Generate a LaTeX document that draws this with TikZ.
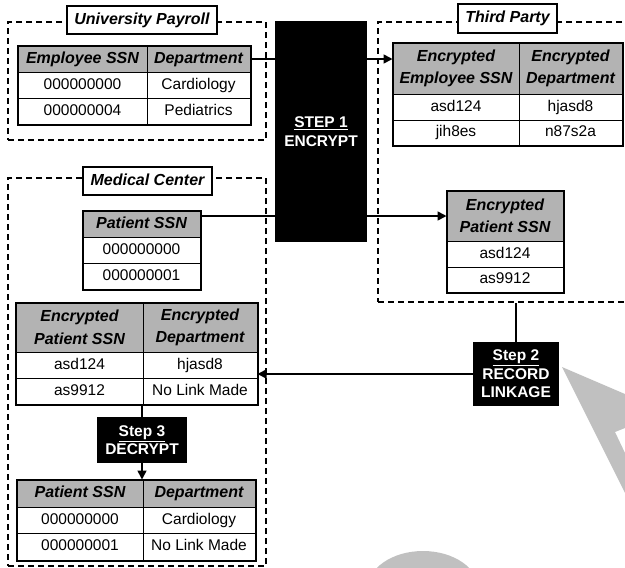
\documentclass[tikz,border=0pt]{standalone}
\usepackage{fontspec}
\setmainfont{Liberation Sans}
\usetikzlibrary{arrows.meta}
\definecolor{hdr}{HTML}{B3B3B3}
\definecolor{wm}{HTML}{C0C0C0}
\begin{document}
\begin{tikzpicture}[x=1pt,y=-1pt,
  basecell/.style={draw, line width=1pt, inner sep=0pt, align=center},
  cell/.style={basecell, text height=11pt, text depth=3pt, font=\fontsize{15.5}{18}\selectfont},
  hcell/.style={basecell, fill=hdr, text height=11.5pt, text depth=3.5pt, font=\fontsize{16}{22.5}\selectfont\bfseries\itshape},
  hcelltwo/.style={basecell, fill=hdr, font=\fontsize{16}{22.5}\selectfont\bfseries\itshape},
  container/.style={draw, dash pattern=on 6pt off 4pt, line width=1.1pt, inner sep=0pt},
  lab/.style={draw, fill=white, line width=1.2pt, inner sep=0pt, text height=11.5pt, text depth=3.5pt, font=\fontsize{16}{19}\selectfont\bfseries\itshape},
  stepbox/.style={fill=black, text=white, inner sep=0pt, align=center, font=\fontsize{15.5}{18.5}\selectfont\bfseries},
  conn/.style={line width=1.7pt},
  arr/.style={conn, -{Triangle[length=9pt,width=9pt]}},
  outer/.style={line width=2pt}
]
\useasboundingbox (0,0) rectangle (625,568);
\clip (0,0) rectangle (625,568);

% watermark fragments
\fill[wm] (562,367) -- (625,394) -- (625,428) -- (615,432) -- (625,453) -- (625,493) -- cycle;
\fill[wm] (423,590) ellipse [x radius=56pt, y radius=39pt];

% containers
\node[container, minimum width=258pt, minimum height=118pt] (upbox) at (137,81) {};
\node[container, minimum width=272pt, minimum height=280pt] (tpbox) at (514,162) {};
\node[container, minimum width=258pt, minimum height=388pt] (mcbox) at (137,372) {};
\node[lab, minimum width=150pt, minimum height=28pt] (uplab) at (142,20) {University Payroll};
\node[lab, minimum width=99pt, minimum height=29pt] (tplab) at (507.5,18.5) {Third Party};
\node[lab, minimum width=129pt, minimum height=28pt] (mclab) at (147.5,181) {Medical Center};

% University Payroll table
\node[hcell, minimum width=129pt, minimum height=26pt] (up-h1) at (82.5,59) {Employee SSN};
\node[hcell, minimum width=103pt, minimum height=26pt] (up-h2) at (198.5,59) {Department};
\node[cell, minimum width=129pt, minimum height=26pt] (up-a1) at (82.5,85) {000000000};
\node[cell, minimum width=103pt, minimum height=26pt] (up-a2) at (198.5,85) {Cardiology};
\node[cell, minimum width=129pt, minimum height=26pt] (up-b1) at (82.5,111) {000000004};
\node[cell, minimum width=103pt, minimum height=26pt] (up-b2) at (198.5,111) {Pediatrics};
\draw[outer] (up-h1.north west) rectangle (up-b2.south east);

% Third Party table
\node[hcelltwo, minimum width=126pt, minimum height=51pt] (tp-h1) at (456,68.5) {Encrypted\\Employee SSN};
\node[hcelltwo, minimum width=103pt, minimum height=51pt] (tp-h2) at (570.5,68.5) {Encrypted\\Department};
\node[cell, minimum width=126pt, minimum height=26pt] (tp-a1) at (456,107) {asd124};
\node[cell, minimum width=103pt, minimum height=26pt] (tp-a2) at (570.5,107) {hjasd8};
\node[cell, minimum width=126pt, minimum height=25pt] (tp-b1) at (456,132.5) {jih8es};
\node[cell, minimum width=103pt, minimum height=25pt] (tp-b2) at (570.5,132.5) {n87s2a};
\draw[outer] (tp-h1.north west) rectangle (tp-b2.south east);

% Patient SSN table
\node[hcell, minimum width=117pt, minimum height=26pt] (ps-h) at (141.5,224) {Patient SSN};
\node[cell, minimum width=117pt, minimum height=26pt] (ps-a) at (141.5,250) {000000000};
\node[cell, minimum width=117pt, minimum height=26pt] (ps-b) at (141.5,276) {000000001};
\draw[outer] (ps-h.north west) rectangle (ps-b.south east);

% Encrypted Patient SSN table
\node[hcelltwo, minimum width=116pt, minimum height=50pt] (eps-h) at (505,216) {Encrypted\\Patient SSN};
\node[cell, minimum width=116pt, minimum height=26pt] (eps-a) at (505,254) {asd124};
\node[cell, minimum width=116pt, minimum height=25pt] (eps-b) at (505,279.5) {as9912};
\draw[outer] (eps-h.north west) rectangle (eps-b.south east);

% Medical center linked table
\node[hcelltwo, minimum width=127pt, minimum height=49pt] (mt-h1) at (79.5,327.5) {Encrypted\\Patient SSN};
\node[hcelltwo, minimum width=114pt, minimum height=49pt] (mt-h2) at (200,327.5) {Encrypted\\Department};
\node[cell, minimum width=127pt, minimum height=26pt] (mt-a1) at (79.5,365) {asd124};
\node[cell, minimum width=114pt, minimum height=26pt] (mt-a2) at (200,365) {hjasd8};
\node[cell, minimum width=127pt, minimum height=26pt] (mt-b1) at (79.5,391) {as9912};
\node[cell, minimum width=114pt, minimum height=26pt] (mt-b2) at (200,391) {No Link Made};
\draw[outer] (mt-h1.north west) rectangle (mt-b2.south east);

% Final table
\node[hcell, minimum width=126pt, minimum height=27pt] (ft-h1) at (80,493.5) {Patient SSN};
\node[hcell, minimum width=112pt, minimum height=27pt] (ft-h2) at (199,493.5) {Department};
\node[cell, minimum width=126pt, minimum height=26pt] (ft-a1) at (80,520) {000000000};
\node[cell, minimum width=112pt, minimum height=26pt] (ft-a2) at (199,520) {Cardiology};
\node[cell, minimum width=126pt, minimum height=27pt] (ft-b1) at (80,546.5) {000000001};
\node[cell, minimum width=112pt, minimum height=27pt] (ft-b2) at (199,546.5) {No Link Made};
\draw[outer] (ft-h1.north west) rectangle (ft-b2.south east);

% step boxes
\node[stepbox, minimum width=92pt, minimum height=221pt] (s1) at (321,131.5) {\underline{STEP 1}\\ENCRYPT};
\node[stepbox, minimum width=86pt, minimum height=64pt] (s2) at (516,374) {\underline{Step 2}\\RECORD\\LINKAGE};
\node[stepbox, minimum width=90pt, minimum height=46pt] (s3) at (142,440) {\underline{Step 3}\\DECRYPT};

% connectors
\draw[conn] (up-h2.east) -- (up-h2.east -| s1.west);
\draw[arr] (s1.east |- up-h2.east) -- (tp-h1.west |- up-h2.east);
\draw[conn] (ps-h.east |- eps-h.west) -- (s1.west |- eps-h.west);
\draw[arr] (s1.east |- eps-h.west) -- (eps-h.west);
\draw[conn] (s2.north) -- (s2.north |- tpbox.south);
\draw[arr] (s2.west) -- (s2.west -| mt-a2.east);
\draw[conn] (s3.north) -- (s3.north |- mt-b1.south);
\draw[arr] (s3.south) -- (s3.south |- ft-h1.north);
\end{tikzpicture}
\end{document}
